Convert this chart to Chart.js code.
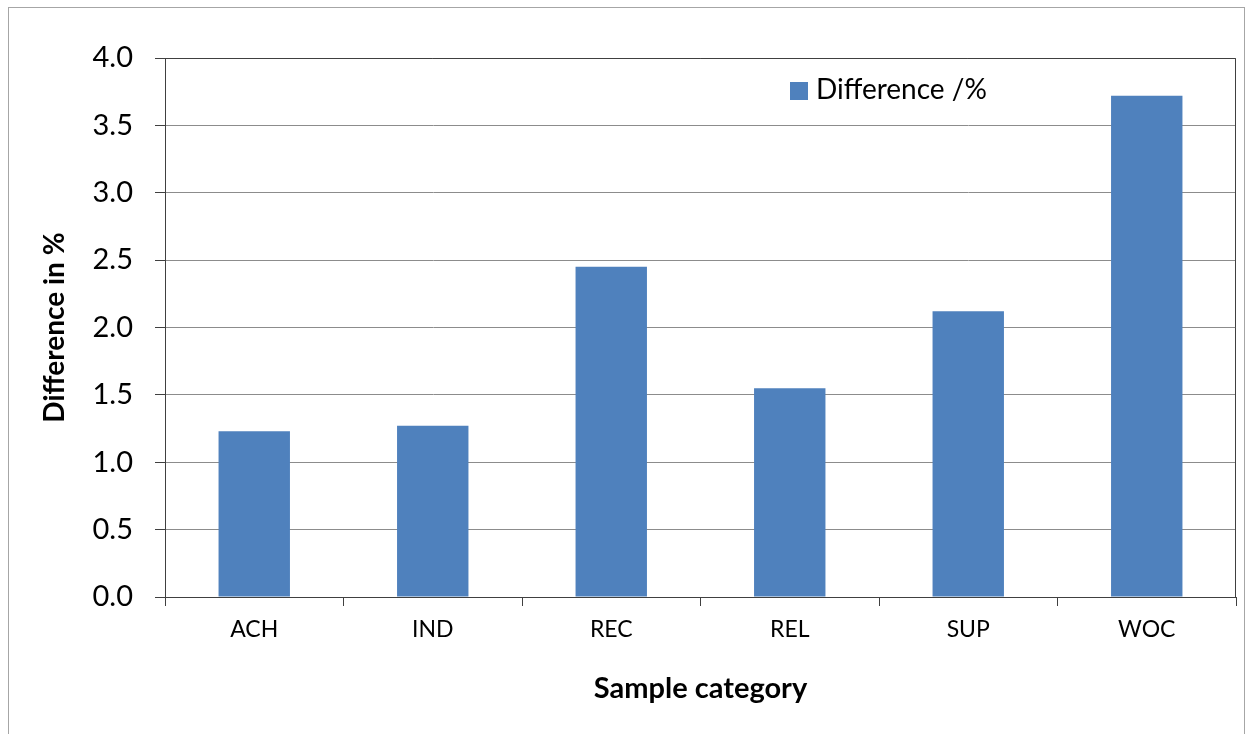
<!DOCTYPE html>
<html>
<head>
<meta charset="utf-8">
<script src="https://cdn.jsdelivr.net/npm/chart.js@4"></script>
<style>
  html, body { margin: 0; padding: 0; background: #fff; }
  #wrap { position: relative; width: 1249px; height: 734px; }
  #frame { position: absolute; left: 8px; top: 7px; width: 1237px; height: 730px;
           border: 1px solid #a6a6a6; box-sizing: border-box; pointer-events: none; }
  canvas { position: absolute; left: 0; top: 0; }
</style>
</head>
<body>
<div id="wrap">
  <canvas id="chart" width="1249" height="734"></canvas>
  <div id="frame"></div>
</div>
<script>
const categories = ['ACH', 'IND', 'REC', 'REL', 'SUP', 'WOC'];
const differences = [1.23, 1.27, 2.45, 1.55, 2.12, 3.72];
const seriesName = 'Difference /%';

const fontFamily = 'Lato, "Open Sans", sans-serif';
const barColor = '#4f81bd';

// plot area has a dark frame on top and right as well
const frameBox = {
    id: 'frameBox',
    afterDatasetsDraw(chart) {
        const a = chart.chartArea;
        const ctx = chart.ctx;
        ctx.save();
        ctx.strokeStyle = '#404040';
        ctx.lineWidth = 1;
        ctx.beginPath();
        ctx.moveTo(a.left, a.top + 0.5);
        ctx.lineTo(a.right - 0.5, a.top + 0.5);
        ctx.lineTo(a.right - 0.5, a.bottom);
        ctx.stroke();
        ctx.restore();
    }
};

// legend sits inside the plot area, near the top right
const innerLegend = {
    id: 'innerLegend',
    afterDraw(chart) {
        const ctx = chart.ctx;
        const ds = chart.data.datasets[0];
        ctx.save();
        ctx.fillStyle = ds.backgroundColor;
        ctx.fillRect(790, 82, 18, 18);
        ctx.fillStyle = '#000';
        ctx.font = '28px ' + fontFamily;
        ctx.textBaseline = 'alphabetic';
        ctx.fillText(ds.label, 816, 99);
        ctx.restore();
    }
};

new Chart(document.getElementById('chart'), {
    type: 'bar',
    data: {
        labels: categories,
        datasets: [{
            label: seriesName,
            data: differences,
            backgroundColor: barColor,
            barPercentage: 0.8,
            categoryPercentage: 0.5
        }]
    },
    options: {
        responsive: false,
        animation: false,
        layout: { padding: { top: 58, right: 13, bottom: 0, left: 0 } },
        plugins: {
            legend: { display: false },
            tooltip: { enabled: false }
        },
        scales: {
            x: {
                grid: {
                    offset: true,
                    drawOnChartArea: false,
                    tickLength: 9,
                    tickColor: '#404040'
                },
                border: { color: '#404040' },
                ticks: {
                    color: '#000',
                    padding: 10,
                    font: { family: fontFamily, size: 23 }
                },
                title: {
                    display: true,
                    text: 'Sample category',
                    color: '#000',
                    font: { family: fontFamily, size: 29, weight: 'bold' },
                    padding: { top: 0, bottom: 28 }
                },
                afterFit(scale) { scale.height = 137; }
            },
            y: {
                min: 0,
                max: 4,
                grid: {
                    color: '#8c8c8c',
                    tickLength: 10,
                    tickColor: '#404040'
                },
                border: { color: '#404040' },
                ticks: {
                    stepSize: 0.5,
                    color: '#000',
                    padding: 22,
                    font: { family: fontFamily, size: 29 },
                    callback: v => v.toFixed(1)
                },
                title: {
                    display: true,
                    text: 'Difference in %',
                    color: '#000',
                    font: { family: fontFamily, size: 28, weight: 'bold' },
                    padding: { top: 38, bottom: 0 }
                },
                afterFit(scale) { scale.width = 165; }
            }
        }
    },
    plugins: [frameBox, innerLegend]
});
</script>
</body>
</html>
